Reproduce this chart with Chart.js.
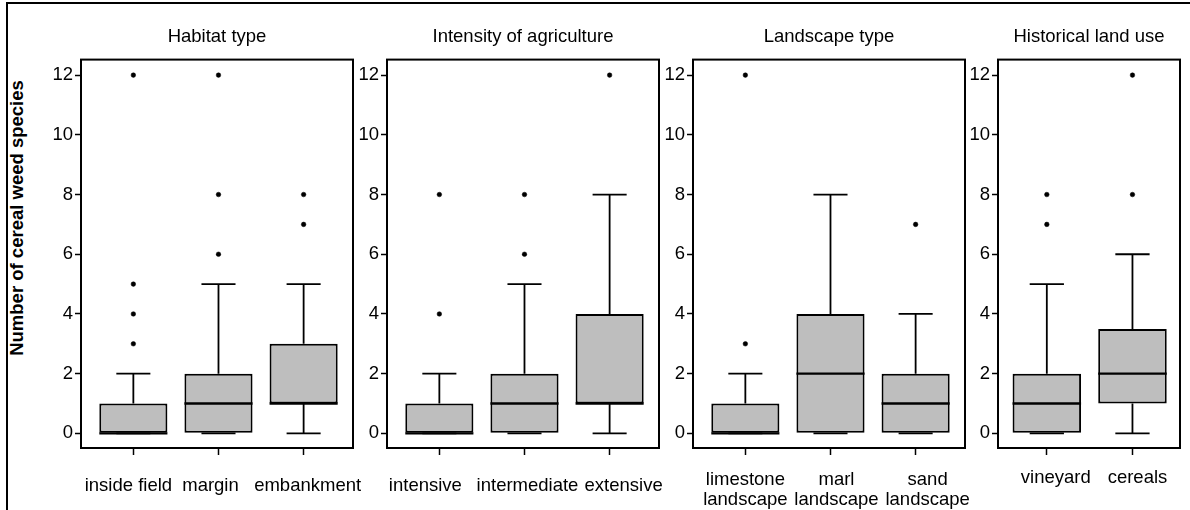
<!DOCTYPE html>
<html>
<head>
<meta charset="utf-8">
<script src="https://cdn.jsdelivr.net/npm/chart.js@4.4.1/dist/chart.umd.min.js"></script>
<style>
  html, body { margin: 0; padding: 0; background: #fff; }
  #fig { position: relative; width: 1190px; height: 510px; overflow: hidden; }
  #frame { position: absolute; left: 6px; top: 2px; right: -10px; bottom: -10px;
           border-top: 2px solid #000; border-left: 2px solid #000; }
  .panel { position: absolute; top: 0; }
  #ylab { position: absolute; left: 16.5px; top: 218px; transform: translate(-50%, -50%) rotate(-90deg);
          font: bold 18.5px "Liberation Sans", Arial, sans-serif; white-space: nowrap; color: #000; }
</style>
</head>
<body>
<div id="fig">
  <div id="frame"></div>
  <div id="ylab">Number of cereal weed species</div>
  <canvas id="p-habitat" class="panel"></canvas>
  <canvas id="p-intensity" class="panel"></canvas>
  <canvas id="p-landscape" class="panel"></canvas>
  <canvas id="p-history" class="panel"></canvas>
</div>
<script>
// ── Box stats per group: [lower whisker, Q1, median, Q3, upper whisker]
const habitatCats     = ['inside field', 'margin', 'embankment'];
const habitatBoxes    = [[0, 0, 0, 1, 2], [0, 0, 1, 2, 5], [0, 1, 1, 3, 5]];
const habitatOutliers = [[3, 4, 5, 12], [6, 8, 12], [7, 8]];

const intensityCats     = ['intensive', 'intermediate', 'extensive'];
const intensityBoxes    = [[0, 0, 0, 1, 2], [0, 0, 1, 2, 5], [0, 1, 1, 4, 8]];
const intensityOutliers = [[4, 8], [6, 8], [12]];

const landscapeCats     = [['limestone', 'landscape'], ['marl', 'landscape'], ['sand', 'landscape']];
const landscapeBoxes    = [[0, 0, 0, 1, 2], [0, 0, 2, 4, 8], [0, 0, 1, 2, 4]];
const landscapeOutliers = [[3, 12], [], [7]];

const historyCats     = ['vineyard', 'cereals'];
const historyBoxes    = [[0, 0, 1, 2, 5], [0, 1, 2, 3.5, 6]];
const historyOutliers = [[7, 8], [8, 12]];

const yTicks = [0, 2, 4, 6, 8, 10, 12];

const FONT = '"Liberation Sans", Arial, Helvetica, sans-serif';
const BOX_FILL = '#bebebe';

// ── Panel placement (plot area left/width in px, axis ranges, label nudges)
const panels = [
  { id: 'p-habitat',   title: 'Habitat type',             cats: habitatCats,   boxes: habitatBoxes,   outliers: habitatOutliers,
    left: 81,  width: 272, xMin: 0.385, xMax: 3.58,  nudge: [-5, -8, 4],  labelY: 490.5 },
  { id: 'p-intensity', title: 'Intensity of agriculture', cats: intensityCats, boxes: intensityBoxes, outliers: intensityOutliers,
    left: 387, width: 272, xMin: 0.385, xMax: 3.58,  nudge: [-14, 3, 14], labelY: 490.5 },
  { id: 'p-landscape', title: 'Landscape type',           cats: landscapeCats, boxes: landscapeBoxes, outliers: landscapeOutliers,
    left: 693, width: 272, xMin: 0.385, xMax: 3.58,  nudge: [0, 6, 12],   labelY: 485 },
  { id: 'p-history',   title: 'Historical land use',      cats: historyCats,   boxes: historyBoxes,   outliers: historyOutliers,
    left: 998, width: 182, xMin: 0.43,  xMax: 2.555, nudge: [9, 5],       labelY: 482.5 }
];

// ── Whiskers, medians and the plot frame
const boxWhiskers = {
  id: 'boxWhiskers',
  afterDatasetsDraw(chart, args, o) {
    const { ctx, chartArea, scales: { x, y } } = chart;
    ctx.save();
    ctx.strokeStyle = '#000';
    ctx.lineCap = 'butt';
    o.boxes.forEach((b, i) => {
      const cx   = x.getPixelForValue(i + 1);
      const cap  = x.getPixelForValue(i + 1.2) - cx;
      const half = x.getPixelForValue(i + 1.4) - cx;
      const [lo, q1, med, q3, hi] = b.map(v => y.getPixelForValue(v));
      ctx.lineWidth = 1.8;
      ctx.beginPath();
      ctx.moveTo(cx, q3);        ctx.lineTo(cx, hi);
      ctx.moveTo(cx - cap, hi);  ctx.lineTo(cx + cap, hi);
      ctx.moveTo(cx, q1);        ctx.lineTo(cx, lo);
      ctx.moveTo(cx - cap, lo);  ctx.lineTo(cx + cap, lo);
      ctx.stroke();
      ctx.lineWidth = 2.4;
      ctx.beginPath();
      ctx.moveTo(cx - half, med); ctx.lineTo(cx + half, med);
      ctx.stroke();
    });
    ctx.lineWidth = 2;
    ctx.strokeRect(chartArea.left, chartArea.top, chartArea.width, chartArea.height);
    ctx.restore();
  }
};

// ── Category labels under the x ticks
const catLabels = {
  id: 'catLabels',
  afterDraw(chart, args, o) {
    const { ctx, scales: { x } } = chart;
    ctx.save();
    ctx.font = '18.5px ' + FONT;
    ctx.fillStyle = '#000';
    ctx.textAlign = 'center';
    ctx.textBaseline = 'alphabetic';
    o.cats.forEach((c, i) => {
      const px = x.getPixelForValue(i + 1) + o.nudge[i];
      [].concat(c).forEach((t, k) => ctx.fillText(t, px, o.baseline + k * 19.5));
    });
    ctx.restore();
  }
};

function buildPanel(p) {
  const canvas = document.getElementById(p.id);
  canvas.width  = 50 + p.width + 24;
  canvas.height = 510;
  canvas.style.left = (p.left - 50) + 'px';

  const boxData     = p.boxes.map((b, i) => ({ x: i + 1, y: [b[1], b[3]] }));
  const outlierData = p.outliers.flatMap((vals, i) => vals.map(v => ({ x: i + 1, y: v })));

  new Chart(canvas, {
    type: 'scatter',
    data: {
      datasets: [
        { type: 'bar', data: boxData, backgroundColor: BOX_FILL, borderColor: '#000', borderWidth: 2,
          borderSkipped: false, categoryPercentage: 0.8, barPercentage: 1 },
        { type: 'scatter', data: outlierData, pointRadius: 2.3, pointBackgroundColor: '#000',
          pointBorderColor: '#000', pointBorderWidth: 0.5 }
      ]
    },
    options: {
      responsive: false,
      animation: false,
      events: [],
      layout: { padding: { left: 0, right: 24, top: 0, bottom: 0 } },
      plugins: {
        legend: { display: false },
        tooltip: { enabled: false },
        title: { display: true, text: p.title, fullSize: false, color: '#000',
                 font: { family: FONT, size: 18.5, weight: 'normal' }, padding: { top: 25.4, bottom: 12 } },
        boxWhiskers: { boxes: p.boxes },
        catLabels: { cats: p.cats, nudge: p.nudge, baseline: p.labelY }
      },
      scales: {
        x: {
          type: 'linear', min: p.xMin, max: p.xMax, offset: false,
          afterFit: s => { s.height = 62; s.paddingLeft = 0; s.paddingRight = 0; },
          afterBuildTicks: s => { s.ticks = p.cats.map((c, i) => ({ value: i + 1 })); },
          ticks: { display: false },
          grid: { offset: false, drawOnChartArea: false, drawTicks: true, tickLength: 7,
                  tickWidth: 1.5, tickColor: '#000', color: '#000' },
          border: { display: false }
        },
        y: {
          type: 'linear', min: -0.49, max: 12.52,
          afterFit: s => { s.width = 50; s.paddingTop = 0; s.paddingBottom = 0; },
          afterBuildTicks: s => { s.ticks = yTicks.map(v => ({ value: v })); },
          ticks: { color: '#000', padding: 2, font: { family: FONT, size: 18.5 } },
          grid: { drawOnChartArea: false, drawTicks: true, tickLength: 6,
                  tickWidth: 1.5, tickColor: '#000', color: '#000' },
          border: { display: false }
        }
      }
    },
    plugins: [boxWhiskers, catLabels]
  });
}

panels.forEach(buildPanel);
</script>
</body>
</html>
